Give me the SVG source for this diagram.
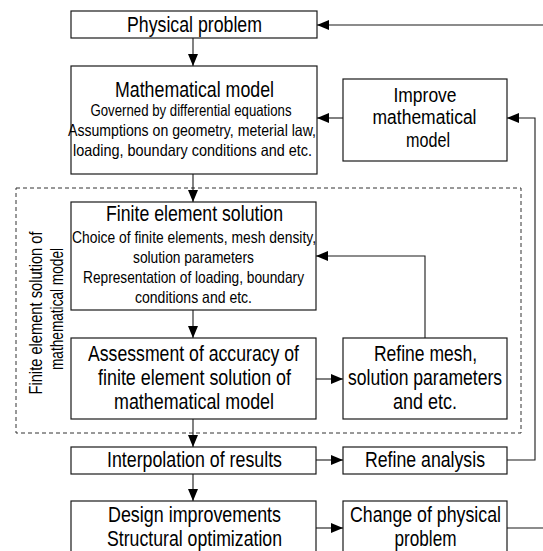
<svg xmlns="http://www.w3.org/2000/svg" width="543" height="551" viewBox="0 0 543 551">
<style>
  .box { fill: #fff; stroke: #1a1a1a; stroke-width: 1.2; }
  .t { font-family: "Liberation Sans", Arial, sans-serif; fill: #000; text-anchor: middle; }
  .big { font-size: 22px; }
  .mid { font-size: 20px; }
  .sm { font-size: 16.5px; }
  .rot { font-size: 18px; }
  .ln { fill: none; stroke: #1a1a1a; stroke-width: 1.1; }
  .dash { fill: none; stroke: #333; stroke-width: 1; stroke-dasharray: 4 3; }
</style>
<defs>
  <marker id="ah" markerUnits="userSpaceOnUse" markerWidth="13" markerHeight="11" refX="12" refY="5" orient="auto">
    <path d="M0,0 L12,5 L0,10 z" fill="#000"/>
  </marker>
</defs>

<rect class="dash" x="16" y="188" width="505" height="245"/>
<text class="t rot" transform="translate(41.5,313) rotate(-90)" textLength="163" lengthAdjust="spacingAndGlyphs">Finite element solution of</text>
<text class="t rot" transform="translate(62.5,309) rotate(-90)" textLength="122" lengthAdjust="spacingAndGlyphs">mathematical model</text>

<g id="connectors">
  <path class="ln" d="M193,38 V66" marker-end="url(#ah)"/>
  <path class="ln" d="M193,174 V202" marker-end="url(#ah)"/>
  <path class="ln" d="M193,310 V338" marker-end="url(#ah)"/>
  <path class="ln" d="M193,419 V447" marker-end="url(#ah)"/>
  <path class="ln" d="M193,474 V501" marker-end="url(#ah)"/>
  <path class="ln" d="M316,379 H343" marker-end="url(#ah)"/>
  <path class="ln" d="M425,338 V256 H316" marker-end="url(#ah)"/>
  <path class="ln" d="M316,460 H343" marker-end="url(#ah)"/>
  <path class="ln" d="M507,460 H535 V118 H507" marker-end="url(#ah)"/>
  <path class="ln" d="M343,118 H317" marker-end="url(#ah)"/>
  <path class="ln" d="M316,528 H343" marker-end="url(#ah)"/>
  <path class="ln" d="M507,528 H548 V25 H317" marker-end="url(#ah)"/>
</g>

<g id="physical">
  <rect class="box" x="71" y="11" width="246" height="27"/>
  <text class="t big" x="194.5" y="31.5" textLength="135" lengthAdjust="spacingAndGlyphs">Physical problem</text>
</g>

<g id="math">
  <rect class="box" x="71" y="66" width="246" height="108"/>
  <text class="t big" x="194.5" y="97" textLength="159" lengthAdjust="spacingAndGlyphs">Mathematical model</text>
  <text class="t sm" x="191" y="115.5" textLength="201" lengthAdjust="spacingAndGlyphs">Governed by differential equations</text>
  <text class="t sm" x="192" y="135.5" textLength="248" lengthAdjust="spacingAndGlyphs">Assumptions on geometry, meterial law,</text>
  <text class="t sm" x="192.5" y="155.5" textLength="239" lengthAdjust="spacingAndGlyphs">loading, boundary conditions and etc.</text>
</g>

<g id="improve">
  <rect class="box" x="343" y="79" width="164" height="82"/>
  <text class="t mid" x="425" y="101.5" textLength="63" lengthAdjust="spacingAndGlyphs">Improve</text>
  <text class="t mid" x="424.5" y="123.5" textLength="104" lengthAdjust="spacingAndGlyphs">mathematical</text>
  <text class="t mid" x="428" y="146.5" textLength="44" lengthAdjust="spacingAndGlyphs">model</text>
</g>

<g id="fe-solution">
  <rect class="box" x="71" y="202" width="245" height="108"/>
  <text class="t big" x="194.5" y="221" textLength="177" lengthAdjust="spacingAndGlyphs">Finite element solution</text>
  <text class="t sm" x="194" y="243" textLength="244" lengthAdjust="spacingAndGlyphs">Choice of finite elements, mesh density,</text>
  <text class="t sm" x="193.5" y="263" textLength="121" lengthAdjust="spacingAndGlyphs">solution parameters</text>
  <text class="t sm" x="193.5" y="283" textLength="221" lengthAdjust="spacingAndGlyphs">Representation of loading, boundary</text>
  <text class="t sm" x="193.5" y="303" textLength="117" lengthAdjust="spacingAndGlyphs">conditions and etc.</text>
</g>

<g id="assessment">
  <rect class="box" x="71" y="338" width="245" height="81"/>
  <text class="t big" x="193.5" y="361" textLength="211" lengthAdjust="spacingAndGlyphs">Assessment of accuracy of</text>
  <text class="t big" x="194.5" y="385" textLength="193" lengthAdjust="spacingAndGlyphs">finite element solution of</text>
  <text class="t big" x="194" y="409" textLength="160" lengthAdjust="spacingAndGlyphs">mathematical model</text>
</g>

<g id="refine-mesh">
  <rect class="box" x="343" y="338" width="164" height="81"/>
  <text class="t big" x="425.5" y="361" textLength="103" lengthAdjust="spacingAndGlyphs">Refine mesh,</text>
  <text class="t big" x="425" y="385" textLength="154" lengthAdjust="spacingAndGlyphs">solution parameters</text>
  <text class="t big" x="425" y="409" textLength="64" lengthAdjust="spacingAndGlyphs">and etc.</text>
</g>

<g id="interpolation">
  <rect class="box" x="71" y="447" width="245" height="27"/>
  <text class="t big" x="194.5" y="467" textLength="175" lengthAdjust="spacingAndGlyphs">Interpolation of results</text>
</g>

<g id="refine-analysis">
  <rect class="box" x="343" y="447" width="164" height="27"/>
  <text class="t big" x="425" y="467" textLength="120" lengthAdjust="spacingAndGlyphs">Refine analysis</text>
</g>

<g id="design">
  <rect class="box" x="71" y="501" width="245" height="58"/>
  <text class="t big" x="194.5" y="522" textLength="173" lengthAdjust="spacingAndGlyphs">Design improvements</text>
  <text class="t big" x="194.5" y="546" textLength="175" lengthAdjust="spacingAndGlyphs">Structural optimization</text>
</g>

<g id="change">
  <rect class="box" x="343" y="501" width="164" height="58"/>
  <text class="t big" x="425.5" y="522" textLength="151" lengthAdjust="spacingAndGlyphs">Change of physical</text>
  <text class="t big" x="425.5" y="546" textLength="62" lengthAdjust="spacingAndGlyphs">problem</text>
</g>
</svg>
